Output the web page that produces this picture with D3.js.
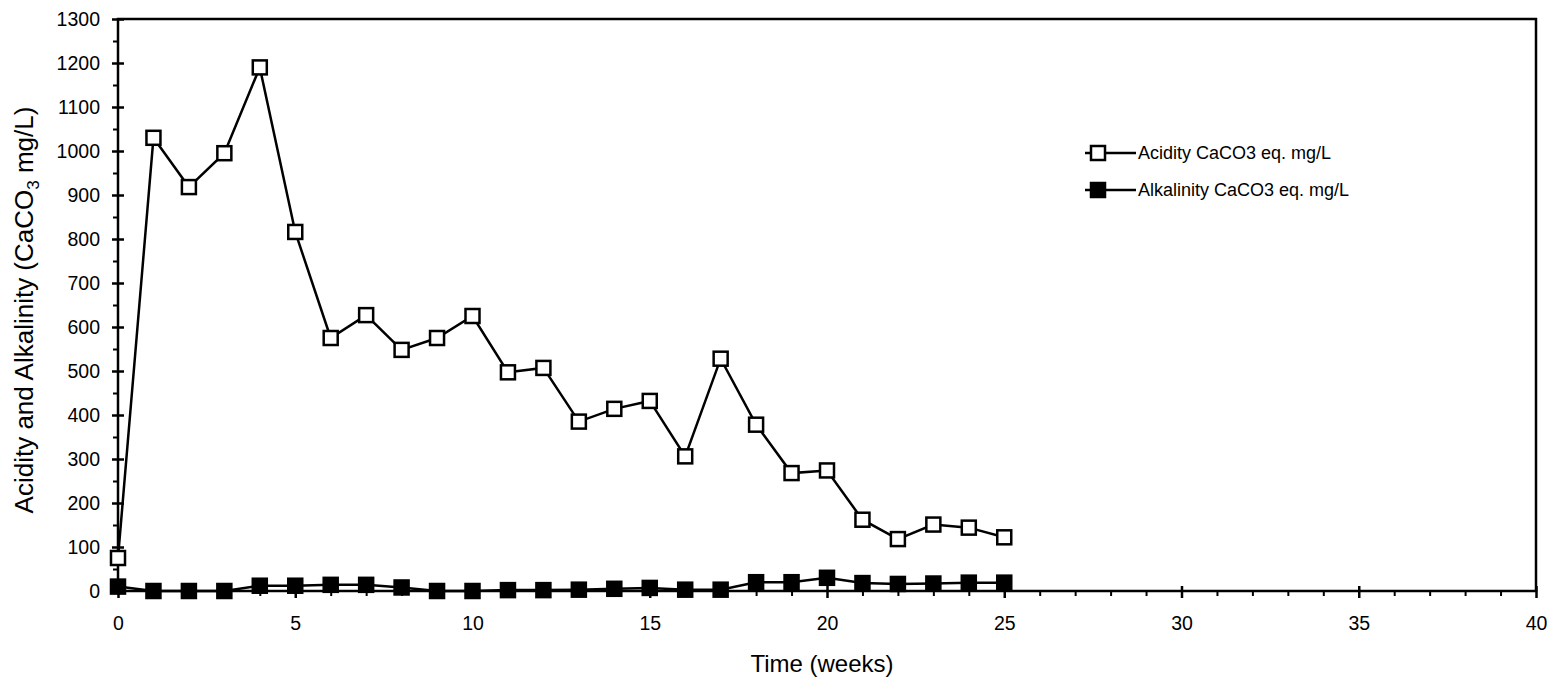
<!DOCTYPE html>
<html>
<head>
<meta charset="utf-8">
<script src="https://cdn.jsdelivr.net/npm/d3@7"></script>
<style>
  html, body { margin: 0; padding: 0; background: #fff; }
  svg { display: block; font-family: "Liberation Sans", Arial, sans-serif; }
</style>
</head>
<body>
<svg id="chart" width="1552" height="683"></svg>
<script>
// Weekly sampling (weeks 0–25)
const weeks = d3.range(0, 26);
const acidity = [75, 1030, 918, 995, 1190, 816, 575, 627, 548, 575, 625, 497, 507, 385, 414, 432, 306, 528, 378, 268, 274, 162, 118, 151, 144, 122];
const alkalinity = [10, 0, 0, 0, 12, 12, 14, 14, 8, 0, 0, 2, 2, 3, 5, 7, 3, 3, 20, 20, 30, 18, 16, 17, 19, 19];
const seriesNames = ["Acidity CaCO3 eq. mg/L", "Alkalinity CaCO3 eq. mg/L"];
const xTicks = [0, 5, 10, 15, 20, 25, 30, 35, 40];
const yTicks = d3.range(0, 1301, 100);

const svg = d3.select("#chart");
const m = { left: 118, right: 1536, top: 19, bottom: 591 };

const x = d3.scaleLinear().domain([0, 40]).range([m.left, m.right]);
const y = d3.scaleLinear().domain([0, 1300]).range([m.bottom, m.top]);

// Plot frame
svg.append("rect")
  .attr("x", m.left).attr("y", m.top)
  .attr("width", m.right - m.left).attr("height", m.bottom - m.top)
  .attr("fill", "none").attr("stroke", "#000").attr("stroke-width", 2.5);

// Y axis: major ticks cross the axis, minor ticks on the outside
const yAxis = svg.append("g").attr("transform", `translate(${m.left},0)`)
  .call(d3.axisLeft(y).tickValues(yTicks).tickSize(6).tickPadding(12).tickFormat(d3.format("d")));
yAxis.select(".domain").remove();
yAxis.selectAll(".tick line").attr("x1", 6).attr("stroke-width", 2.5);
yAxis.selectAll(".tick text").attr("font-size", 19.5).attr("fill", "#000");
svg.append("g").attr("transform", `translate(${m.left},0)`)
  .call(d3.axisLeft(y).tickValues(d3.range(50, 1300, 100)).tickSize(5).tickFormat(""))
  .call(g => g.select(".domain").remove())
  .selectAll("line").attr("stroke-width", 2);

// X axis: major ticks every 5 weeks, minor every week
const xAxis = svg.append("g").attr("transform", `translate(0,${m.bottom})`)
  .call(d3.axisBottom(x).tickValues(xTicks).tickSize(7).tickPadding(18).tickFormat(d3.format("d")));
xAxis.select(".domain").remove();
xAxis.selectAll(".tick line").attr("y1", -5).attr("stroke-width", 2.5);
xAxis.selectAll(".tick text").attr("font-size", 19.5).attr("fill", "#000");
svg.append("g").attr("transform", `translate(0,${m.bottom})`)
  .call(d3.axisBottom(x).tickValues(d3.range(0, 41).filter(d => d % 5 !== 0)).tickSize(5).tickFormat(""))
  .call(g => g.select(".domain").remove())
  .selectAll("line").attr("stroke-width", 2);

// Axis titles
svg.append("text")
  .attr("x", 822).attr("y", 672)
  .attr("text-anchor", "middle").attr("font-size", 24).text("Time (weeks)");

const yt = svg.append("text")
  .attr("transform", `translate(33,310) rotate(-90)`)
  .attr("text-anchor", "middle").attr("font-size", 26);
yt.append("tspan").text("Acidity and Alkalinity (CaCO");
yt.append("tspan").attr("font-size", 17).attr("dy", 6).text("3");
yt.append("tspan").attr("dy", -6).text(" mg/L)");

// Series
const line = d3.line().x((d, i) => x(weeks[i])).y(d => y(d));
const series = [
  { values: alkalinity, fill: "#000" },
  { values: acidity, fill: "#fff" }
];
const sz = 14;
series.forEach(s => {
  svg.append("path").datum(s.values)
    .attr("d", line).attr("fill", "none").attr("stroke", "#000").attr("stroke-width", 2.5);
  svg.append("g").selectAll("rect").data(s.values).join("rect")
    .attr("x", (d, i) => x(weeks[i]) - sz / 2)
    .attr("y", d => y(d) - sz / 2)
    .attr("width", sz).attr("height", sz)
    .attr("fill", s.fill).attr("stroke", "#000").attr("stroke-width", 2.5);
});

// Legend
const legend = svg.append("g");
[["#fff", 153], ["#000", 190]].forEach(([fill, ly], i) => {
  legend.append("line").attr("x1", 1085).attr("x2", 1136).attr("y1", ly).attr("y2", ly)
    .attr("stroke", "#000").attr("stroke-width", 2.5);
  legend.append("rect").attr("x", 1098 - sz / 2).attr("y", ly - sz / 2)
    .attr("width", sz).attr("height", sz).attr("fill", fill).attr("stroke", "#000").attr("stroke-width", 2.5);
  legend.append("text").attr("x", 1138).attr("y", ly + 6).attr("font-size", 18).text(seriesNames[i]);
});
</script>
</body>
</html>
